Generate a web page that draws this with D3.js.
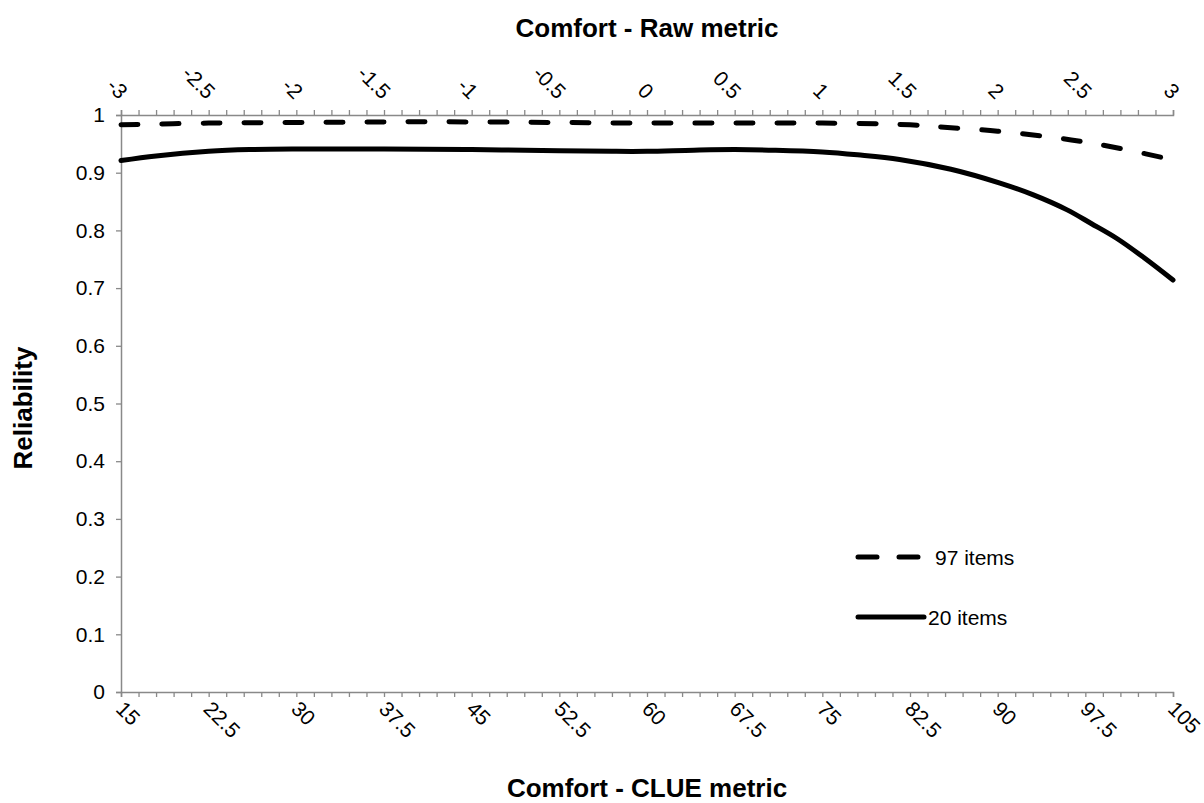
<!DOCTYPE html>
<html>
<head>
<meta charset="utf-8">
<script src="https://cdnjs.cloudflare.com/ajax/libs/d3/7.8.5/d3.min.js"></script>
<style>
  body { margin: 0; background: #fff; }
  svg text { font-family: "Liberation Sans", Arial, sans-serif; fill: #000; }
</style>
</head>
<body>
<div class="chart"></div>
<script>
var WIDTH = 1204;
var HEIGHT = 803;

// CLUE metric positions (bottom axis) and reliability
var clue97 = [15, 22.5, 30, 37.5, 45, 52.5, 60, 67.5, 75, 82.5, 86, 90, 94, 97.5, 101, 105];
var items97 = [0.983, 0.986, 0.987, 0.988, 0.988, 0.987, 0.986, 0.986, 0.986, 0.983, 0.978, 0.972, 0.963, 0.953, 0.940, 0.922];

var clue20 = [15, 18, 22.5, 26, 30, 37.5, 45, 52.5, 57, 60, 64, 67.5, 71, 75, 78, 81.6, 86, 90.2, 93, 95.9, 98, 100.2, 102.5, 105];
var items20 = [0.921, 0.929, 0.937, 0.940, 0.941, 0.941, 0.940, 0.938, 0.937, 0.937, 0.939, 0.940, 0.939, 0.936, 0.931, 0.923, 0.906, 0.882, 0.862, 0.836, 0.812, 0.786, 0.753, 0.714];

var bottomTicks = [15, 22.5, 30, 37.5, 45, 52.5, 60, 67.5, 75, 82.5, 90, 97.5, 105];
var topTicks = [-3, -2.5, -2, -1.5, -1, -0.5, 0, 0.5, 1, 1.5, 2, 2.5, 3];
var yTicks = [0, 0.1, 0.2, 0.3, 0.4, 0.5, 0.6, 0.7, 0.8, 0.9, 1];

var legendNames = ['97 items', '20 items'];

var margin = {left: 121, right: 31, top: 115, bottom: 111};
var axisColor = '#898989';
var labelSize = '21px';
var titleSize = '26px';

var x = d3.scaleLinear().domain([15, 105]).range([margin.left, WIDTH - margin.right]);
var xTop = d3.scaleLinear().domain([-3, 3]).range([margin.left, WIDTH - margin.right]);
var y = d3.scaleLinear().domain([0, 1]).range([HEIGHT - margin.bottom, margin.top]);

var svg = d3.select('.chart')
  .append('svg')
  .attr('width', WIDTH)
  .attr('height', HEIGHT);

var fmt = function(d) { return String(d); };

// minor ticks every 1.5 / 0.1 (5 per label)
var minorBottom = d3.range(0, 61).map(function(i) { return 15 + i * 1.5; });
var minorTop = d3.range(0, 61).map(function(i) { return -3 + i * 0.1; });

var gBottom = svg.append('g')
  .attr('transform', 'translate(0,' + y(0) + ')')
  .call(d3.axisBottom(x).tickValues(minorBottom).tickSize(5).tickFormat(''));
var gTop = svg.append('g')
  .attr('transform', 'translate(0,' + y(1) + ')')
  .call(d3.axisTop(xTop).tickValues(minorTop).tickSize(5).tickFormat(''));
var gLeft = svg.append('g')
  .attr('transform', 'translate(' + x(15) + ',0)')
  .call(d3.axisLeft(y).tickValues(yTicks).tickSize(5).tickFormat(fmt).tickPadding(11));

[gBottom, gTop, gLeft].forEach(function(g) {
  g.select('.domain').attr('stroke', axisColor).attr('stroke-width', 1.5);
  g.selectAll('.tick line').attr('stroke', axisColor).attr('stroke-width', 1.3);
});
gLeft.selectAll('.tick text')
  .style('font-size', labelSize)
  .style('font-family', '"Liberation Sans", Arial, sans-serif')
  .attr('fill', '#000');

// rotated tick labels
svg.append('g').selectAll('text')
  .data(bottomTicks)
  .enter()
  .append('text')
  .attr('transform', function(d) { return 'translate(' + (x(d) - 1) + ',' + (y(0) + 13) + ') rotate(45)'; })
  .attr('text-anchor', 'start')
  .attr('dominant-baseline', 'central')
  .style('font-size', labelSize)
  .text(fmt);

svg.append('g').selectAll('text')
  .data(topTicks)
  .enter()
  .append('text')
  .attr('transform', function(d) { return 'translate(' + (xTop(d) + 3) + ',' + (y(1) - 20) + ') rotate(45)'; })
  .attr('text-anchor', 'end')
  .attr('dominant-baseline', 'central')
  .style('font-size', labelSize)
  .text(fmt);

// lines
var line = d3.line()
  .x(function(d) { return x(d[0]); })
  .y(function(d) { return y(d[1]); })
  .curve(d3.curveCatmullRom.alpha(0.5));

svg.append('path')
  .datum(clue97.map(function(c, i) { return [c, items97[i]]; }))
  .attr('fill', 'none')
  .attr('stroke', '#000')
  .attr('stroke-width', 5)
  .attr('stroke-linecap', 'round')
  .attr('stroke-dasharray', '17,24')
  .attr('d', line);

svg.append('path')
  .datum(clue20.map(function(c, i) { return [c, items20[i]]; }))
  .attr('fill', 'none')
  .attr('stroke', '#000')
  .attr('stroke-width', 5)
  .attr('stroke-linecap', 'round')
  .attr('d', line);

// legend
var legY = [557, 617];
var legend = svg.append('g');
legend.append('line')
  .attr('x1', 858).attr('x2', 920).attr('y1', legY[0]).attr('y2', legY[0])
  .attr('stroke', '#000').attr('stroke-width', 5)
  .attr('stroke-linecap', 'round').attr('stroke-dasharray', '19,22');
legend.append('line')
  .attr('x1', 858).attr('x2', 924).attr('y1', legY[1]).attr('y2', legY[1])
  .attr('stroke', '#000').attr('stroke-width', 5)
  .attr('stroke-linecap', 'round');
legend.selectAll('text.leg')
  .data(legendNames)
  .enter()
  .append('text')
  .attr('class', 'leg')
  .attr('x', function(d, i) { return i === 0 ? 935 : 928; })
  .attr('y', function(d, i) { return legY[i]; })
  .attr('dominant-baseline', 'central')
  .style('font-size', labelSize)
  .text(function(d) { return d; });

// axis titles
svg.append('text')
  .attr('x', (x(15) + x(105)) / 2)
  .attr('y', 37)
  .attr('text-anchor', 'middle')
  .style('font-size', titleSize)
  .style('font-weight', 'bold')
  .text('Comfort - Raw metric');

svg.append('text')
  .attr('x', (x(15) + x(105)) / 2)
  .attr('y', 797)
  .attr('text-anchor', 'middle')
  .style('font-size', titleSize)
  .style('font-weight', 'bold')
  .text('Comfort - CLUE metric');

svg.append('text')
  .attr('transform', 'translate(32,' + 408 + ') rotate(-90)')
  .attr('text-anchor', 'middle')
  .style('font-size', titleSize)
  .style('font-weight', 'bold')
  .text('Reliability');
</script>
</body>
</html>
